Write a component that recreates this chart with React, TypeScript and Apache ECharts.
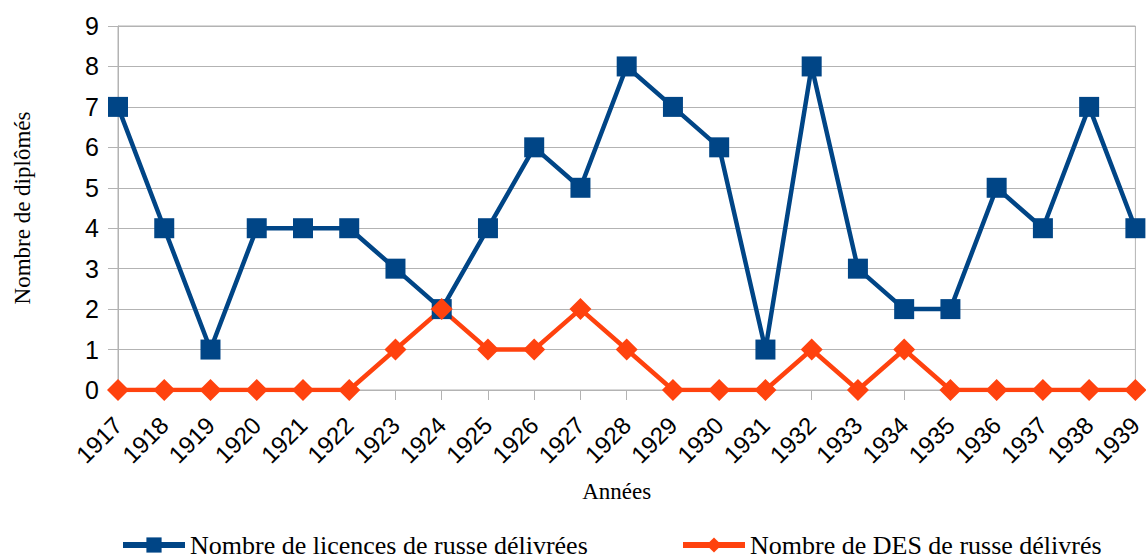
import React, { useEffect, useRef } from "react";
import * as echarts from "echarts";

const years = ["1917","1918","1919","1920","1921","1922","1923","1924","1925","1926","1927","1928","1929","1930","1931","1932","1933","1934","1935","1936","1937","1938","1939"];
const licences = [7,4,1,4,4,4,3,2,4,6,5,8,7,6,1,8,3,2,2,5,4,7,4];
const des = [0,0,0,0,0,0,1,2,1,1,2,1,0,0,0,1,0,1,0,0,0,0,0];
const seriesNames = ["Nombre de licences de russe délivrées", "Nombre de DES de russe délivrés"];

export default function App() {
  const ref = useRef<HTMLDivElement>(null);
  useEffect(() => {
    const chart = echarts.init(ref.current!, null, { renderer: "svg" });
    const serif = "'Liberation Serif', 'Times New Roman', serif";
    const sans = "'Liberation Sans', Arial, sans-serif";
    const legendText = { fontFamily: serif, fontSize: 26, color: "#000" };
    chart.setOption({
      animation: false,
      grid: { left: 118, right: 9, top: 26, bottom: 169, show: true, borderColor: "#b3b3b3", borderWidth: 1 },
      legend: [
        { data: [seriesNames[0]], left: 120, top: 532, itemWidth: 62, itemHeight: 19, padding: 0,
          lineStyle: { width: 6 }, textStyle: legendText },
        { data: [seriesNames[1]], left: 680, top: 532, itemWidth: 62, itemHeight: 19, padding: 0,
          lineStyle: { width: 6 }, textStyle: legendText },
      ],
      xAxis: {
        type: "category",
        data: years,
        boundaryGap: false,
        name: "Années",
        nameLocation: "middle",
        nameGap: 90,
        nameTextStyle: { fontFamily: serif, fontSize: 23, color: "#000", padding: [0, 20, 0, 0] },
        axisLine: { show: true, lineStyle: { color: "#b3b3b3", width: 1 } },
        axisTick: { show: true, length: 10, lineStyle: { color: "#b3b3b3" } },
        axisLabel: { rotate: 45, fontFamily: sans, fontSize: 24, color: "#000", margin: 31, interval: 0 },
        splitLine: { show: false },
      },
      yAxis: {
        type: "value",
        min: 0,
        max: 9,
        interval: 1,
        name: "Nombre de diplômés",
        nameLocation: "middle",
        nameGap: 84,
        nameTextStyle: { fontFamily: serif, fontSize: 23, color: "#000" },
        axisLine: { show: true, lineStyle: { color: "#b3b3b3", width: 1 } },
        axisTick: { show: true, length: 10, lineStyle: { color: "#b3b3b3" } },
        axisLabel: { fontFamily: sans, fontSize: 25, color: "#000", margin: 19 },
        splitLine: { show: true, lineStyle: { color: "#b3b3b3", width: 1 } },
      },
      series: [
        {
          name: seriesNames[0],
          type: "line",
          data: licences,
          symbol: "rect",
          symbolSize: 20,
          lineStyle: { color: "#004586", width: 4.5 },
          itemStyle: { color: "#004586" },
        },
        {
          name: seriesNames[1],
          type: "line",
          data: des,
          symbol: "diamond",
          symbolSize: 22,
          lineStyle: { color: "#ff420e", width: 4.5 },
          itemStyle: { color: "#ff420e" },
        },
      ],
    });
    return () => chart.dispose();
  }, []);
  return <div ref={ref} style={{ width: 1146, height: 559, position: "absolute", left: 0, top: 0 }} />;
}
